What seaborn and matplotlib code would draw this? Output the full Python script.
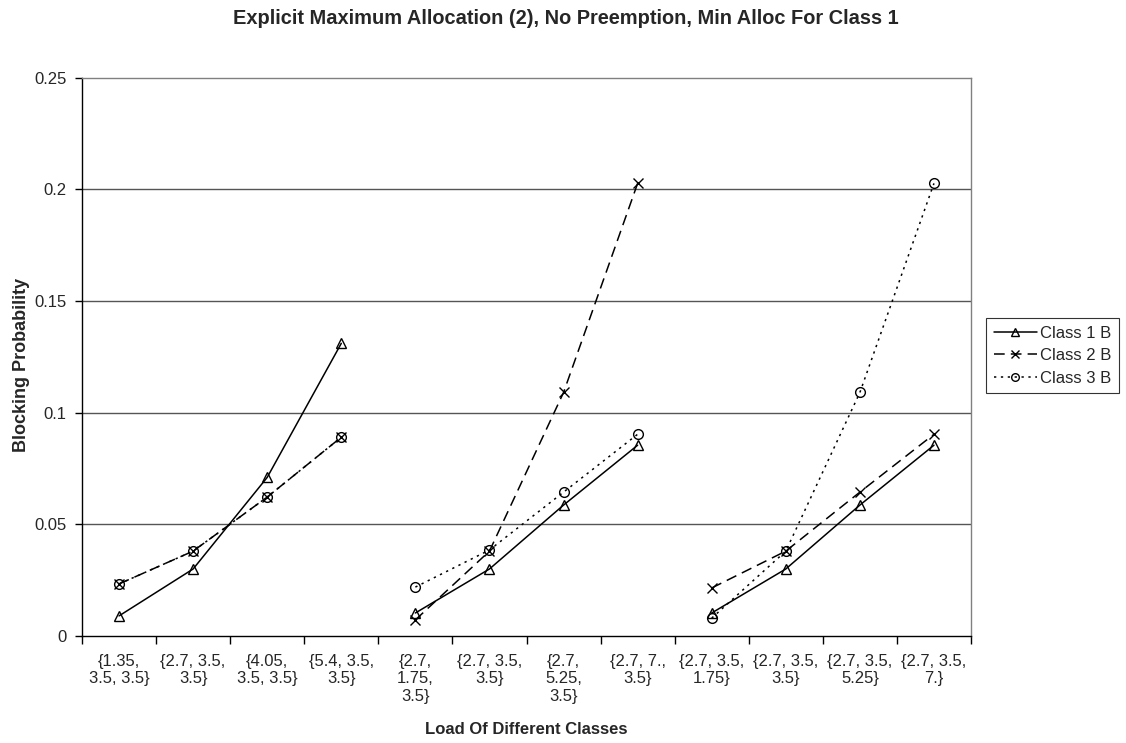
import matplotlib
matplotlib.use("Agg")
import matplotlib.pyplot as plt
import seaborn as sns
import pandas as pd
import numpy as np
from matplotlib.lines import Line2D

categories = ["{1.35,\n3.5, 3.5}", "{2.7, 3.5,\n3.5}", "{4.05,\n3.5, 3.5}", "{5.4, 3.5,\n3.5}",
              "{2.7,\n1.75,\n3.5}", "{2.7, 3.5,\n3.5}", "{2.7,\n5.25,\n3.5}", "{2.7, 7.,\n3.5}",
              "{2.7, 3.5,\n1.75}", "{2.7, 3.5,\n3.5}", "{2.7, 3.5,\n5.25}", "{2.7, 3.5,\n7.}"]
groups = [0, 0, 0, 0, 1, 1, 1, 1, 2, 2, 2, 2]
class1 = [0.009, 0.030, 0.071, 0.131, 0.0103, 0.030, 0.0586, 0.0854, 0.0103, 0.030, 0.0586, 0.0854]
class2 = [0.0233, 0.038, 0.0622, 0.089, 0.0072, 0.038, 0.109, 0.2026, 0.0215, 0.038, 0.0644, 0.0903]
class3 = [0.0233, 0.038, 0.0622, 0.089, 0.0219, 0.0385, 0.0644, 0.0903, 0.008, 0.038, 0.109, 0.2026]
series_names = ["Class 1 B", "Class 2 B", "Class 3 B"]
ytick_vals = [0, 0.05, 0.1, 0.15, 0.2, 0.25]
ytick_labels = ["0", "0.05", "0.1", "0.15", "0.2", "0.25"]

rows = []
for name, vals in zip(series_names, [class1, class2, class3]):
    for i, (v, g) in enumerate(zip(vals, groups)):
        rows.append({"x": i, "y": v, "series": name, "group": g})
df = pd.DataFrame(rows)

sns.set_theme(style="white")
plt.rcParams['font.family'] = ['Liberation Sans', 'DejaVu Sans']

W, H = 1126, 743
fig = plt.figure(figsize=(W / 100, H / 100), dpi=100)
ax = fig.add_axes([82 / W, 1 - 636 / H, (971 - 82) / W, (636 - 77.5) / H])

styles = {
    "Class 1 B": dict(marker="^", linestyle="-"),
    "Class 2 B": dict(marker="x", linestyle=(0, (7, 4))),
    "Class 3 B": dict(marker="o", linestyle=(0, (1.5, 3))),
}
for name in series_names:
    sub = df[df["series"] == name]
    st = styles[name]
    sns.lineplot(data=sub, x="x", y="y", units="group", estimator=None, ax=ax,
                 color="black", linewidth=1.1, linestyle=st["linestyle"],
                 marker=st["marker"], markersize=7, markerfacecolor="none",
                 markeredgecolor="black", markeredgewidth=1.0, legend=False)

ax.set_xlim(-0.5, 11.5)
ax.set_ylim(0, 0.25)
ax.set_yticks(ytick_vals)
ax.set_yticklabels(ytick_labels, fontsize=12)
for y in ytick_vals[1:-1]:
    ax.axhline(y, color="#555555", linewidth=1.0, zorder=0)

ax.set_xticks(np.arange(-0.5, 12, 1.0))
ax.set_xticklabels([])
ax.set_xticks(np.arange(12), minor=True)
ax.set_xticklabels(categories, minor=True, fontsize=12, linespacing=1.2)
ax.tick_params(axis="x", which="major", direction="out", length=6, width=1, color="black", bottom=True)
ax.tick_params(axis="x", which="minor", length=0, pad=13)
ax.tick_params(axis="y", direction="out", length=5, width=1, color="black", left=True, pad=6)

for s in ["left", "bottom"]:
    ax.spines[s].set_color("black")
    ax.spines[s].set_linewidth(1.0)
for s in ["top", "right"]:
    ax.spines[s].set_color("#808080")
    ax.spines[s].set_linewidth(1.0)

ax.set_xlabel("")
ax.set_ylabel("")
fig.text(526.5 / W, 1 - 730 / H, "Load Of Different Classes", ha="center", va="center",
         fontsize=12, fontweight="bold")
fig.text(22 / W, 1 - 365 / H, "Blocking Probability", ha="center", va="center",
         rotation=90, fontsize=13, fontweight="bold")
fig.text(566 / W, 1 - 19 / H, "Explicit Maximum Allocation (2), No Preemption, Min Alloc For Class 1",
         ha="center", va="center", fontsize=14.4, fontweight="bold")

handles = [Line2D([0], [0], color="black", linewidth=1.1, linestyle=styles[n]["linestyle"],
                  marker=styles[n]["marker"], markersize=5.5, markerfacecolor="none",
                  markeredgecolor="black") for n in series_names]
leg = fig.legend(handles, series_names, loc="upper left", bbox_to_anchor=(986 / W, 1 - 318 / H),
                 fontsize=12, frameon=True, fancybox=False, edgecolor="black",
                 handlelength=2.6, handletextpad=0.2, borderpad=0.45, labelspacing=0.45,
                 borderaxespad=0)
leg.get_frame().set_linewidth(0.8)

fig.savefig("out.png", dpi=100)
